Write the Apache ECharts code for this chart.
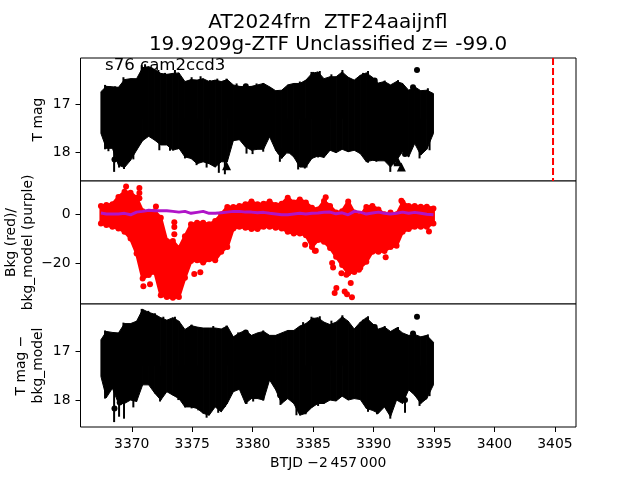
<!DOCTYPE html>
<html>
<head>
<meta charset="utf-8">
<title>AT2024frn</title>
<script src="https://cdn.jsdelivr.net/npm/echarts@6/dist/echarts.min.js"></script>
<style>
  html, body { margin: 0; padding: 0; background: #fff; }
  #main { width: 640px; height: 480px; }
</style>
</head>
<body>
<div id="main"></div>
<script>
// envelope of the dense points, every half day
var times = [3367.45, 3367.9, 3368.4, 3368.9, 3369.4, 3369.9, 3370.4, 3370.9, 3371.4, 3371.9,
  3372.4, 3372.9, 3373.4, 3373.9, 3374.4, 3374.9, 3375.4, 3375.9, 3376.4, 3376.9,
  3377.4, 3377.9, 3378.4, 3378.9, 3379.4, 3379.9, 3380.4, 3380.9, 3381.4, 3381.9,
  3382.4, 3382.9, 3383.4, 3383.9, 3384.4, 3384.9, 3385.4, 3385.9, 3386.4, 3386.9,
  3387.4, 3387.9, 3388.4, 3388.9, 3389.4, 3389.9, 3390.4, 3390.9, 3391.4, 3391.9,
  3392.4, 3392.9, 3393.4, 3393.9, 3394.4, 3394.95];

// T mag panel
var magTop = [16.74, 16.63, 16.64, 16.65, 16.49, 16.47, 16.47, 16.24, 16.22, 16.28,
  16.36, 16.38, 16.36, 16.35, 16.53, 16.49, 16.50, 16.47, 16.53, 16.50,
  16.53, 16.49, 16.60, 16.63, 16.64, 16.63, 16.60, 16.57, 16.64, 16.72,
  16.71, 16.60, 16.57, 16.57, 16.50, 16.36, 16.33, 16.47, 16.43, 16.43,
  16.33, 16.44, 16.50, 16.40, 16.35, 16.44, 16.56, 16.53, 16.60, 16.53,
  16.57, 16.71, 16.64, 16.72, 16.71, 16.78];
var magBottom = [17.61, 17.92, 17.92, 18.27, 18.32, 18.17, 17.96, 17.76, 17.67, 17.75,
  17.85, 17.85, 17.96, 17.92, 18.10, 18.13, 18.24, 18.20, 18.24, 18.31,
  18.20, 18.20, 17.76, 17.74, 17.89, 17.96, 17.94, 17.94, 17.68, 17.96,
  18.13, 17.99, 18.10, 18.31, 18.31, 18.13, 18.08, 18.11, 17.96, 18.01,
  17.94, 17.99, 17.96, 18.03, 18.20, 18.17, 18.18, 18.18, 18.31, 18.17,
  17.99, 18.10, 17.82, 18.06, 17.94, 17.61];
var magTopSpikes = [[3367.79, 16.60], [3368.21, 16.63], [3368.62, 16.63], [3369.31, 16.44], [3370.0, 16.47],
  [3370.82, 16.19], [3371.1, 16.17], [3371.65, 16.24], [3372.2, 16.29], [3372.75, 16.35],
  [3373.57, 16.29], [3374.13, 16.47], [3374.95, 16.44], [3375.69, 16.42], [3376.46, 16.5],
  [3377.07, 16.47], [3377.84, 16.47], [3378.67, 16.57], [3380.32, 16.57], [3380.87, 16.56],
  [3383.07, 16.59], [3383.9, 16.53], [3384.86, 16.33], [3385.41, 16.33], [3385.0, 16.33],
  [3385.55, 16.31], [3386.51, 16.38], [3387.42, 16.29], [3389.13, 16.35], [3389.54, 16.31],
  [3390.92, 16.51], [3392.02, 16.5], [3394.49, 16.67]];
var magBottomSpikes = [[3367.79, 17.94], [3368.07, 17.98], [3368.54, 18.41], [3368.95, 18.32], [3369.36, 18.35],
  [3369.72, 18.17], [3370.13, 18.15], [3372.28, 17.96], [3373.16, 17.97], [3373.77, 17.94],
  [3374.4, 18.13], [3375.36, 18.27], [3376.19, 18.32], [3377.2, 18.43], [3377.7, 18.46],
  [3379.49, 18.03], [3379.99, 18.04], [3380.87, 17.99], [3382.25, 18.2], [3382.93, 18.03],
  [3383.76, 18.36], [3384.45, 18.32], [3385.41, 18.11], [3384.31, 18.34], [3389.54, 18.22],
  [3390.23, 18.2], [3391.38, 18.41], [3391.74, 18.27], [3393.8, 18.13], [3394.22, 17.96], [3394.63, 17.96]];
var magDots = [[3393.59, 16.29], [3393.26, 16.65], [3390.09, 16.51], [3368.57, 18.15],
  [3379.43, 16.63], [3382.24, 17.98], [3392.6, 18.04]];
var magTriangles = [[3377.84, 18.28], [3392.3, 18.31], [3392.02, 18.2]];
var peakTime = [3404.84, 3404.84];
var peakRange = [16.04, 18.6];

// background panel, outermost dot centres
var bkgTop = [3.3, 3.7, 4.0, 7.0, 9.1, 8.7, 6.7, 1.2, 0.6, 1.2,
  -1.5, -11.0, -11.0, -13.9, -9.0, -4.2, -3.5, -3.5, -4.2, -2.8,
  -0.1, 2.9, 2.9, 3.3, 4.0, 5.1, 4.0, 4.2, 5.1, 3.7,
  4.2, 6.7, 4.7, 6.0, 4.7, 2.6, 1.9, 5.3, 3.3, 0.6,
  1.2, 5.1, 0.6, -0.8, 2.9, 3.3, 1.9, -0.1, 0.6, -0.1,
  4.7, 3.3, 3.3, 3.0, 3.0, 2.3];
var bkgBottom = [-3.8, -4.5, -5.2, -5.9, -7.2, -10.0, -16.1, -26.3, -24.9, -23.6,
  -33.1, -33.8, -34.2, -33.8, -26.0, -19.2, -18.8, -19.8, -18.4, -18.8,
  -15.4, -13.4, -5.9, -5.2, -5.6, -6.1, -6.1, -5.2, -5.2, -5.6,
  -5.9, -7.2, -7.9, -7.9, -8.6, -13.4, -10.6, -11.3, -13.8, -17.4,
  -20.8, -24.2, -23.6, -21.9, -19.5, -15.4, -15.4, -15.1, -13.4, -12.9,
  -7.2, -6.1, -5.2, -5.2, -5.2, -3.8];
var bkgModel = [0.4, 0, 0, 0, 0.3, -0.3, 0.8, 1.1, 1.6, 1.4,
  1.4, 1.4, 1.1, 0.8, 1.1, 0.3, 0.7, 1.1, 0.3, 0.3,
  0.5, 0.8, 1.1, 1.1, 0.8, 0.8, 0.5, 0.7, 0.3, 0,
  -0.3, -0.3, 0, 0.3, 0, 0.3, 0.4, 0.7, 0.8, 0.1,
  0.5, -0.3, 1.1, 0.8, 0, 0.4, 0.8, 0.3, 0, 0.3,
  0.8, 0.3, 0.7, 0.3, -0.1, -0.3];
var bkgDots = [[3370.96, -29.5], [3371.51, -28.6], [3372.0, 3.1], [3373.52, -3.3], [3373.52, -5.3],
  [3373.52, -8.2], [3375.17, -24.5], [3375.67, -23.7], [3384.34, -12.5], [3385.22, -15],
  [3369.53, 11.3], [3370.63, 10.6], [3370.63, 8.6], [3370.63, 6.5], [3385.14, -15],
  [3386.57, -20], [3386.65, -21.8], [3387.34, -24.1], [3387.75, -24.8], [3388.11, -28.1],
  [3386.92, -30.2], [3386.78, -32.2], [3387.61, -31.6], [3387.8, -32.7], [3388.21, -33.9],
  [3388.79, -22.7], [3391.0, -17.6], [3394.58, -7.1], [3388.71, -1.6], [3386.04, 6.9], [3392.3, 5.4]];

// T mag - bkg_model panel
var corrTop = [16.77, 16.60, 16.62, 16.63, 16.44, 16.44, 16.39, 16.15, 16.21, 16.25,
  16.32, 16.37, 16.32, 16.39, 16.56, 16.48, 16.51, 16.53, 16.53, 16.53,
  16.55, 16.49, 16.71, 16.63, 16.58, 16.68, 16.63, 16.60, 16.68, 16.68,
  16.63, 16.58, 16.58, 16.49, 16.44, 16.34, 16.32, 16.41, 16.46, 16.41,
  16.30, 16.39, 16.55, 16.41, 16.32, 16.44, 16.55, 16.51, 16.60, 16.53,
  16.63, 16.68, 16.66, 16.71, 16.68, 16.82];
var corrBottom = [17.52, 17.95, 17.76, 18.07, 18.07, 18.00, 18.03, 17.69, 17.69, 17.86,
  18.00, 17.83, 17.90, 17.97, 18.14, 18.14, 18.17, 18.27, 18.31, 18.14,
  18.24, 18.07, 17.83, 17.78, 18.07, 17.97, 17.97, 18.00, 17.59, 17.79,
  18.07, 17.97, 18.07, 18.31, 18.27, 18.15, 18.07, 18.07, 18.00, 18.02,
  17.92, 18.00, 17.97, 17.99, 18.17, 18.21, 18.27, 18.14, 18.34, 18.00,
  18.07, 17.79, 17.90, 18.07, 17.97, 17.69];
var corrTopSpikes = [[3367.79, 16.58], [3369.31, 16.42], [3370.82, 16.14], [3371.37, 16.18], [3371.92, 16.23],
  [3372.61, 16.3], [3373.57, 16.3], [3374.95, 16.46], [3376.74, 16.49], [3377.84, 16.48],
  [3378.8, 16.62], [3379.49, 16.58], [3380.87, 16.58], [3384.17, 16.41], [3384.86, 16.3],
  [3385.0, 16.32], [3385.55, 16.29], [3386.51, 16.38], [3387.42, 16.27], [3389.13, 16.36],
  [3389.54, 16.29], [3390.92, 16.49], [3392.02, 16.51], [3394.49, 16.66]];
var corrBottomSpikes = [[3367.79, 17.97], [3368.54, 18.45], [3368.95, 18.34], [3369.36, 18.38], [3370.13, 18.15],
  [3372.34, 18.03], [3373.85, 18.0], [3374.4, 18.15], [3374.95, 18.17], [3375.5, 18.21],
  [3376.19, 18.36], [3377.15, 18.26], [3377.7, 18.14], [3379.49, 18.08], [3380.04, 18.03],
  [3380.87, 18.01], [3382.3, 18.1], [3383.07, 17.99], [3383.62, 18.31], [3384.31, 18.27],
  [3385.41, 18.12], [3384.37, 18.29], [3389.54, 18.24], [3390.28, 18.29], [3391.38, 18.38],
  [3392.6, 18.26], [3393.8, 18.12], [3394.3, 17.99], [3394.63, 17.92]];
var corrDots = [[3393.59, 16.30], [3393.26, 16.64], [3390.09, 16.51], [3368.57, 18.17],
  [3379.43, 16.62], [3369.0, 18.05], [3382.27, 17.90], [3392.6, 18.0]];

var xTicks = [3370, 3375, 3380, 3385, 3390, 3395, 3400, 3405];
var magTicks = [17, 18];
var bkgTicks = [0, -20];

var fontName = "DejaVu Sans";

function rows(top, bottom) {
  return times.map(function (t, i) { return [t, top[i], bottom[i]]; });
}

// filled band between the two envelopes
function bandSeries(gridIndex, top, bottom, color, strokeWidth) {
  var data = rows(top, bottom);
  return {
    type: "custom",
    xAxisIndex: gridIndex,
    yAxisIndex: gridIndex,
    data: data,
    silent: true,
    renderItem: function (params, api) {
      var next = data[params.dataIndex + 1];
      if (!next) return null;
      var cur = data[params.dataIndex];
      return {
        type: "polygon",
        shape: {
          points: [
            api.coord([cur[0], cur[1]]),
            api.coord([next[0], next[1]]),
            api.coord([next[0], next[2]]),
            api.coord([cur[0], cur[2]])
          ]
        },
        style: { fill: color, stroke: color, lineWidth: strokeWidth, lineJoin: "round" }
      };
    }
  };
}

// error bars sticking out of the band
function spikeSeries(gridIndex, spikes) {
  return {
    type: "custom",
    xAxisIndex: gridIndex,
    yAxisIndex: gridIndex,
    data: spikes,
    silent: true,
    renderItem: function (params, api) {
      var a = api.coord([api.value(0), 17.3]);
      var b = api.coord([api.value(0), api.value(1)]);
      return {
        type: "line",
        shape: { x1: a[0], y1: a[1], x2: b[0], y2: b[1] },
        style: { stroke: "#000", lineWidth: 2 }
      };
    }
  };
}

function dotSeries(gridIndex, points, color, size, symbol) {
  return {
    type: "scatter",
    xAxisIndex: gridIndex,
    yAxisIndex: gridIndex,
    data: points,
    symbol: symbol || "circle",
    symbolSize: size,
    itemStyle: { color: color, opacity: 1 },
    silent: true
  };
}

function xAxis(gridIndex, isBottom) {
  return {
    type: "value",
    gridIndex: gridIndex,
    min: 3365.76,
    max: 3406.74,
    splitLine: { show: false },
    axisLine: { show: false },
    axisTick: { show: isBottom, customValues: xTicks, length: 5, lineStyle: { color: "#000", width: 1 } },
    axisLabel: {
      show: isBottom,
      customValues: xTicks,
      margin: 10,
      fontFamily: fontName,
      fontSize: 13.9,
      color: "#000",
      formatter: function (v) { return String(v); }
    },
    name: isBottom ? "BTJD \u22122\u2009457\u2009000" : "",
    nameLocation: "middle",
    nameGap: 29,
    nameMoveOverlap: false,
    nameTextStyle: { fontFamily: fontName, fontSize: 13.9, color: "#000" }
  };
}

function yAxis(gridIndex, min, max, inverse, ticks, name, gap) {
  return {
    type: "value",
    gridIndex: gridIndex,
    min: min,
    max: max,
    inverse: inverse,
    splitLine: { show: false },
    axisLine: { show: false },
    axisTick: { show: true, customValues: ticks, length: 5, lineStyle: { color: "#000", width: 1 } },
    axisLabel: {
      customValues: ticks,
      margin: 10,
      fontFamily: fontName,
      fontSize: 13.9,
      color: "#000",
      formatter: function (v) { return String(v).replace("-", "\u2212"); }
    },
    name: name,
    nameLocation: "middle",
    nameGap: gap,
    nameMoveOverlap: false,
    nameRotate: 90,
    nameTextStyle: { fontFamily: fontName, fontSize: 13.9, color: "#000", lineHeight: 17 }
  };
}

function panelGrid(top) {
  return {
    show: true, left: 80.5, width: 495.5, top: top, height: 123,
    outerBoundsMode: "none",
    borderColor: "#000", borderWidth: 1, backgroundColor: "#fff"
  };
}

var myChart = echarts.init(document.getElementById("main"), null, { renderer: "canvas" });
myChart.setOption({
  animation: false,
  backgroundColor: "#fff",
  title: [
    {
      text: "AT2024frn  ZTF24aaijnfl\n19.9209g-ZTF Unclassified z= -99.0",
      left: 323,
      top: 7,
      textAlign: "center",
      textStyle: { fontFamily: fontName, fontSize: 20, fontWeight: "normal", color: "#000", lineHeight: 22 }
    },
    {
      text: "s76 cam2ccd3",
      left: 100,
      top: 52,
      z: 10,
      textStyle: { fontFamily: fontName, fontSize: 16.6, fontWeight: "normal", color: "#000" }
    }
  ],
  grid: [panelGrid(58), panelGrid(181), panelGrid(304)],
  xAxis: [xAxis(0, false), xAxis(1, false), xAxis(2, true)],
  yAxis: [
    yAxis(0, 16.04, 18.6, true, magTicks, "T mag", 34),
    yAxis(1, -36.7, 13.5, false, bkgTicks, "Bkg (red)/\nbkg_model (purple)", 44),
    yAxis(2, 16.04, 18.55, true, magTicks, "T mag \u2212\nbkg_model", 34)
  ],
  series: [
    bandSeries(0, magTop, magBottom, "#000", 1),
    spikeSeries(0, magTopSpikes),
    spikeSeries(0, magBottomSpikes),
    dotSeries(0, magDots, "#000", 6),
    dotSeries(0, magTriangles, "#000", 9, "triangle"),
    {
      type: "line",
      xAxisIndex: 0,
      yAxisIndex: 0,
      data: peakTime.map(function (t, i) { return [t, peakRange[i]]; }),
      showSymbol: false,
      silent: true,
      lineStyle: { color: "#ff0000", width: 2, type: [7, 3] }
    },
    bandSeries(1, bkgTop, bkgBottom, "#ff0000", 3),
    dotSeries(1, times.map(function (t, i) { return [t, bkgTop[i]]; }), "#ff0000", 6),
    dotSeries(1, times.map(function (t, i) { return [t, bkgBottom[i]]; }), "#ff0000", 6),
    dotSeries(1, bkgDots, "#ff0000", 6),
    {
      type: "line",
      xAxisIndex: 1,
      yAxisIndex: 1,
      data: times.map(function (t, i) { return [t, bkgModel[i]]; }),
      showSymbol: false,
      silent: true,
      z: 5,
      lineStyle: { color: "#b014c8", width: 3 }
    },
    bandSeries(2, corrTop, corrBottom, "#000", 1),
    spikeSeries(2, corrTopSpikes),
    spikeSeries(2, corrBottomSpikes),
    dotSeries(2, corrDots, "#000", 6)
  ]
});
</script>
</body>
</html>
